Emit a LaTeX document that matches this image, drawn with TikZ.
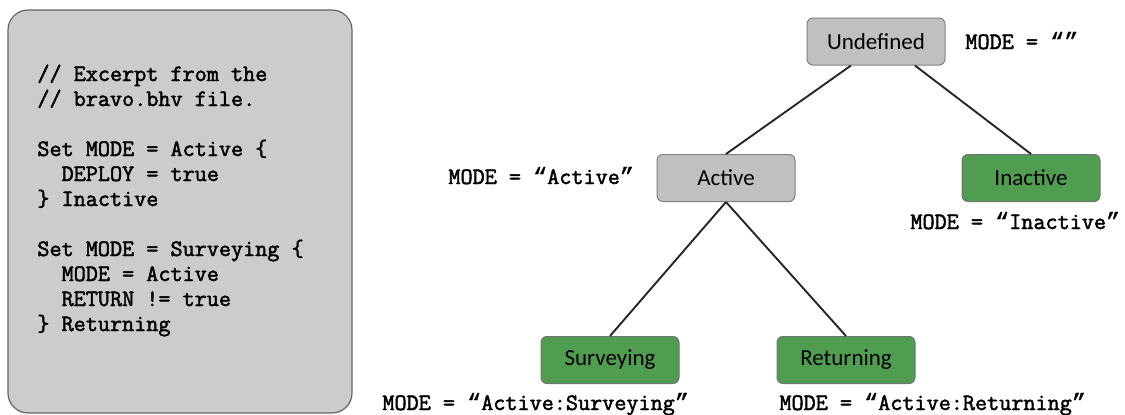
\documentclass[tikz,border=0pt]{standalone}
\usepackage{fontspec}
\setmainfont{Carlito}
\newfontfamily\codefont[FakeBold=2]{Latin Modern Mono}
\newfontfamily\quotefont[FakeBold=1]{Liberation Mono}
\newcommand\oq{{\quotefont “}}
\newcommand\cq{{\quotefont ”}}
\usetikzlibrary{calc}

\definecolor{panelgray}{RGB}{204,204,204}
\definecolor{graynode}{RGB}{192,192,192}
\definecolor{leafgreen}{RGB}{80,156,80}

\begin{document}
\begin{tikzpicture}
[-,x=1pt,y=-1pt,thick,
 state node/.style={rectangle,rounded corners=6pt,draw=black!50,line width=1pt,fill=graynode,
   minimum width=138pt,minimum height=47pt,font=\fontsize{23}{27}\selectfont},
 leaf node/.style={state node,fill=leafgreen,draw=black!55},
 mode label/.style={anchor=base west,inner sep=0pt,font=\codefont\fontsize{23.5}{25}\selectfont},
 tree edge/.style={draw=black!85,line width=1.9pt}]

  \useasboundingbox (0,0) rectangle (1125,415);

  % code excerpt panel
  \draw[rounded corners=20pt,draw=black!60,fill=panelgray,line width=1.2pt] (8,10) rectangle (352,413);
  \node[mode label] (c1) at (37,81)  {// Excerpt from the};
  \node[mode label] (c2) at (37,106) {// bravo.bhv file.};
  \node[mode label] (c3) at (37,156) {Set MODE = Active \{};
  \node[mode label] (c4) at (37,181) {\phantom{xx}DEPLOY = true};
  \node[mode label] (c5) at (37,206) {\} Inactive};
  \node[mode label] (c6) at (37,256) {Set MODE = Surveying \{};
  \node[mode label] (c7) at (37,281) {\phantom{xx}MODE = Active};
  \node[mode label] (c8) at (37,306) {\phantom{xx}RETURN != true};
  \node[mode label] (c9) at (37,331) {\} Returning};

  % mode tree
  \node[state node] (undef) at (876,41.5) {Undefined};
  \node[state node] (active) at (726,178) {Active};
  \node[leaf node] (inactive) at (1031,178) {Inactive};
  \node[leaf node] (survey) at (610,360) {Surveying};
  \node[leaf node] (return) at (846,360) {Returning};

  \node[mode label] (lundef) at (965,49) {MODE = \oq\cq};
  \node[mode label] (lactive) at (448,184) {MODE = \oq Active\cq};
  \node[mode label] (linactive) at (910,229) {MODE = \oq Inactive\cq};
  \node[mode label] (lsurvey) at (382,410) {MODE = \oq Active:Surveying\cq};
  \node[mode label] (lreturn) at (779,410) {MODE = \oq Active:Returning\cq};

  \draw[tree edge] ($(undef.south west)!0.32!(undef.south east)$) -- (active.north);
  \draw[tree edge] ($(undef.south west)!0.78!(undef.south east)$) -- (inactive.north);
  \draw[tree edge] (active.south) -- (survey.north);
  \draw[tree edge] (active.south) -- (return.north);
\end{tikzpicture}
\end{document}
